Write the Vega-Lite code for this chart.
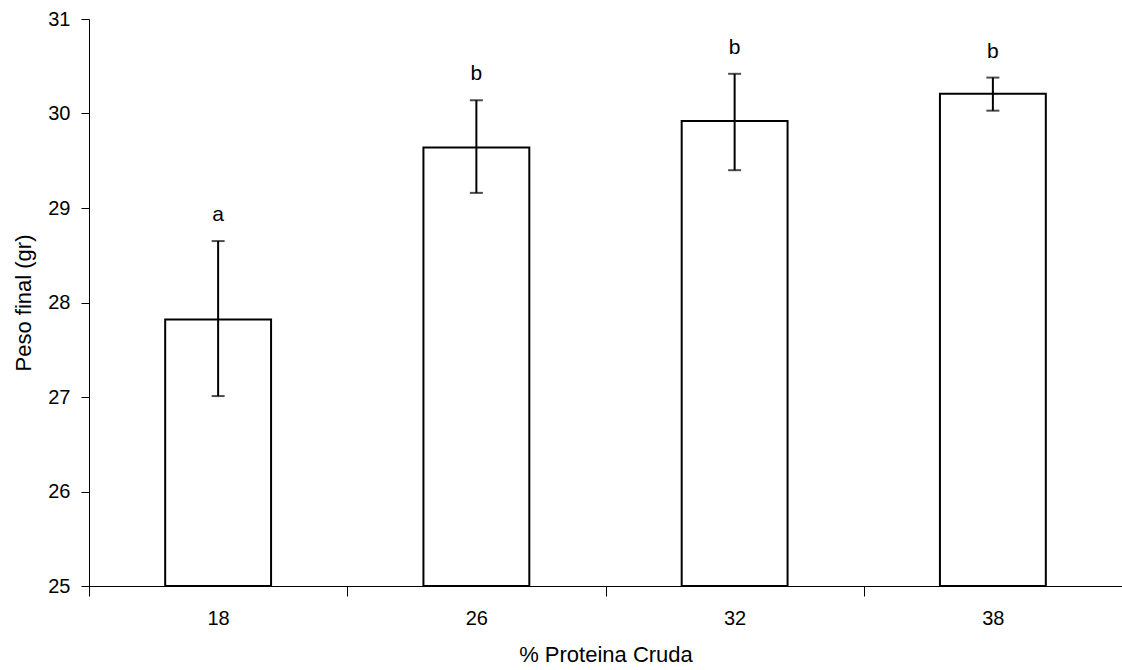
{
  "$schema": "https://vega.github.io/schema/vega-lite/v6.json",
  "width": 1033,
  "height": 567,
  "autosize": {"type": "none"},
  "padding": {"left": 89, "top": 19, "right": 0, "bottom": 84},
  "background": "white",
  "config": {
    "view": {"stroke": null},
    "font": "Liberation Sans",
    "axis": {
      "labelFont": "Liberation Sans",
      "titleFont": "Liberation Sans",
      "labelFontSize": 20,
      "titleFontSize": 22,
      "titleFontWeight": "normal",
      "labelColor": "#000",
      "titleColor": "#000",
      "domainColor": "#000",
      "tickColor": "#000",
      "grid": false
    }
  },
  "data": {
    "values": [
      {"proteina": "18", "peso": 27.82, "lo": 27.01, "hi": 28.65, "letra": "a"},
      {"proteina": "26", "peso": 29.64, "lo": 29.16, "hi": 30.14, "letra": "b"},
      {"proteina": "32", "peso": 29.92, "lo": 29.40, "hi": 30.42, "letra": "b"},
      {"proteina": "38", "peso": 30.21, "lo": 30.03, "hi": 30.38, "letra": "b"}
    ]
  },
  "encoding": {
    "x": {
      "field": "proteina",
      "type": "nominal",
      "sort": null,
      "title": "% Proteina Cruda",
      "scale": {"paddingInner": 0, "paddingOuter": 0},
      "axis": {
        "labelAngle": 0,
        "tickBand": "extent",
        "tickSize": 10,
        "labelPadding": 12,
        "titlePadding": 16
      }
    }
  },
  "layer": [
    {
      "mark": {"type": "bar", "width": {"band": 0.41}, "fill": "white", "stroke": "#000", "strokeWidth": 2},
      "encoding": {
        "y": {
          "field": "peso",
          "type": "quantitative",
          "title": "Peso final (gr)",
          "scale": {"domain": [25, 31], "zero": false, "nice": false},
          "axis": {"values": [25, 26, 27, 28, 29, 30, 31], "format": "d", "tickSize": 8, "labelPadding": 11, "titlePadding": 12}
        },
        "y2": {"datum": 25}
      }
    },
    {
      "mark": {"type": "rule", "color": "#000", "strokeWidth": 2},
      "encoding": {
        "y": {"field": "lo", "type": "quantitative"},
        "y2": {"field": "hi"}
      }
    },
    {
      "mark": {"type": "tick", "color": "#000", "size": 13, "thickness": 2},
      "encoding": {"y": {"field": "lo", "type": "quantitative"}}
    },
    {
      "mark": {"type": "tick", "color": "#000", "size": 13, "thickness": 2},
      "encoding": {"y": {"field": "hi", "type": "quantitative"}}
    },
    {
      "mark": {"type": "text", "baseline": "alphabetic", "dy": -20, "fontSize": 21, "color": "#000"},
      "encoding": {
        "y": {"field": "hi", "type": "quantitative"},
        "text": {"field": "letra"}
      }
    }
  ]
}
